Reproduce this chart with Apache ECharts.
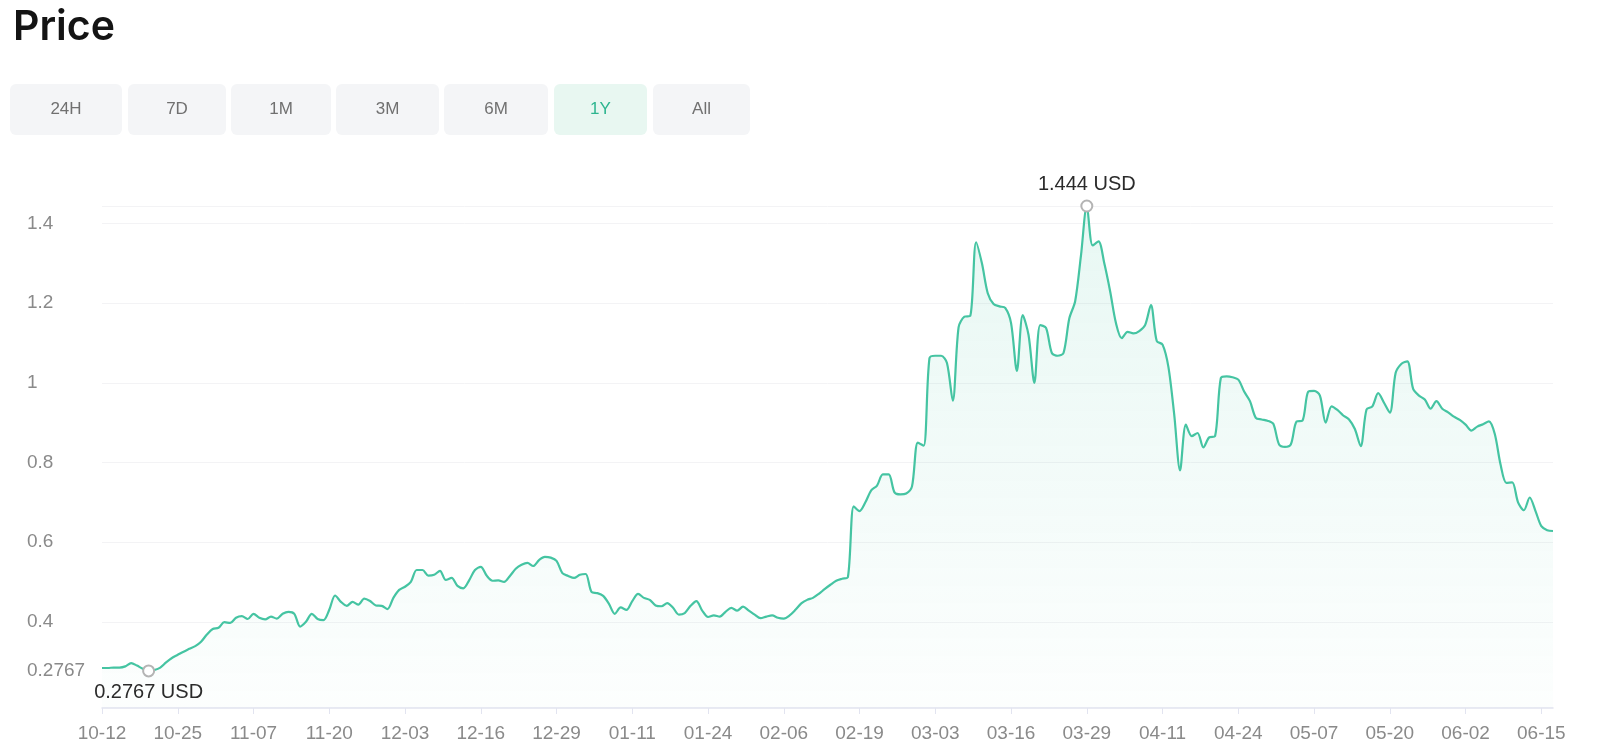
<!DOCTYPE html>
<html>
<head>
<meta charset="utf-8">
<title>Price</title>
<script src="https://cdn.jsdelivr.net/npm/echarts@6/dist/echarts.min.js"></script>
<style>
  html, body { margin: 0; padding: 0; background: #fff; }
  #chart { width: 1600px; height: 745px; }
</style>
</head>
<body>
<div id="chart"></div>
<script>
// Daily price (USD) starting 2023-10-12
const startDate = '2023-10-12';
const prices = [
  0.284, 0.284, 0.285, 0.285, 0.288, 0.296, 0.290, 0.282, 0.2767, 0.279,
  0.285, 0.298, 0.309, 0.317, 0.325, 0.332, 0.339, 0.350, 0.368, 0.382,
  0.385, 0.399, 0.397, 0.410, 0.414, 0.407, 0.420, 0.410, 0.406, 0.413,
  0.408, 0.420, 0.425, 0.420, 0.388, 0.400, 0.420, 0.407, 0.404, 0.430,
  0.466, 0.450, 0.440, 0.450, 0.443, 0.458, 0.452, 0.441, 0.440, 0.432,
  0.460, 0.480, 0.488, 0.500, 0.530, 0.530, 0.516, 0.518, 0.528, 0.505,
  0.510, 0.490, 0.484, 0.504, 0.530, 0.538, 0.516, 0.503, 0.504, 0.500,
  0.515, 0.533, 0.543, 0.548, 0.540, 0.555, 0.563, 0.561, 0.553, 0.522,
  0.515, 0.510, 0.518, 0.520, 0.475, 0.472, 0.465, 0.445, 0.420, 0.436,
  0.430, 0.452, 0.470, 0.460, 0.455, 0.441, 0.439, 0.447, 0.435, 0.418,
  0.422, 0.440, 0.452, 0.428, 0.412, 0.416, 0.413, 0.425, 0.435, 0.428,
  0.438, 0.428, 0.418, 0.409, 0.413, 0.416, 0.410, 0.408, 0.416, 0.430,
  0.446, 0.455, 0.460, 0.470, 0.482, 0.493, 0.503, 0.508, 0.512, 0.690,
  0.678, 0.700, 0.730, 0.742, 0.770, 0.770, 0.725, 0.720, 0.722, 0.740,
  0.850, 0.842, 1.062, 1.068, 1.068, 1.050, 0.955, 1.140, 1.166, 1.168,
  1.353, 1.300, 1.225, 1.198, 1.192, 1.188, 1.150, 1.030, 1.170, 1.120,
  1.000, 1.145, 1.138, 1.075, 1.068, 1.075, 1.162, 1.205, 1.320, 1.444,
  1.345, 1.355, 1.300, 1.230, 1.150, 1.112, 1.128, 1.124, 1.130, 1.145,
  1.195, 1.105, 1.096, 1.040, 0.920, 0.780, 0.895, 0.866, 0.874, 0.838,
  0.863, 0.866, 1.012, 1.016, 1.014, 1.008, 0.978, 0.954, 0.912, 0.908,
  0.905, 0.897, 0.845, 0.839, 0.845, 0.903, 0.905, 0.978, 0.980, 0.968,
  0.900, 0.941, 0.932, 0.918, 0.908, 0.884, 0.841, 0.933, 0.941, 0.974,
  0.950, 0.925, 1.025, 1.048, 1.054, 0.985, 0.968, 0.958, 0.935, 0.954,
  0.935, 0.926, 0.915, 0.907, 0.895, 0.880, 0.890, 0.896, 0.903, 0.872,
  0.795, 0.749, 0.750, 0.700, 0.680, 0.712, 0.678, 0.640, 0.630, 0.628
];
const yLabelValues = [0.2767, 0.4, 0.6, 0.8, 1, 1.2, 1.4];
const yGridValues = [0.4, 0.6, 0.8, 1, 1.2, 1.4, 1.444];
const rangeButtons = ['24H', '7D', '1M', '3M', '6M', '1Y', 'All'];
const activeRange = '1Y';

// button layout (x, width) in px
const buttonBoxes = [[10, 112], [128, 98], [231, 100], [336, 103], [444, 104], [554, 93], [653, 97]];

// daily categories
const dates = [];
const d0 = new Date(startDate + 'T00:00:00Z');
for (let i = 0; i < prices.length; i++) {
  const d = new Date(d0.getTime() + i * 86400000);
  const mm = String(d.getUTCMonth() + 1).padStart(2, '0');
  const dd = String(d.getUTCDate()).padStart(2, '0');
  dates.push(mm + '-' + dd);
}

const FONT = '"Liberation Sans", Arial, sans-serif';
const GREEN = '#45c4a2';

const buttonGraphics = rangeButtons.map((name, i) => {
  const active = name === activeRange;
  const [x, w] = buttonBoxes[i];
  return {
    type: 'group',
    left: x,
    top: 84,
    children: [
      {
        type: 'rect',
        shape: { x: 0, y: 0, width: w, height: 51, r: 6 },
        style: { fill: active ? '#e8f7f1' : '#f4f5f7' }
      },
      {
        type: 'text',
        x: w / 2,
        y: 25.5,
        style: {
          text: name,
          fill: active ? '#2db58f' : '#707070',
          font: '17px ' + FONT,
          align: 'center',
          verticalAlign: 'middle'
        }
      }
    ]
  };
});

const chart = echarts.init(document.getElementById('chart'));
chart.setOption({
  animation: false,
  title: {
    text: 'Price',
    left: 8,
    top: 2,
    textStyle: { fontSize: 41, fontWeight: 600, color: '#141414', fontFamily: 'Inter, ' + FONT }
  },
  graphic: buttonGraphics,
  grid: { left: 102, right: 47, top: 206, bottom: 37 },
  xAxis: {
    type: 'category',
    data: dates,
    boundaryGap: false,
    axisLine: { lineStyle: { color: '#e2e4f0', width: 1.5 } },
    axisTick: { interval: 12, length: 6, lineStyle: { color: '#e2e4f0' } },
    axisLabel: { interval: 12, color: '#8a8a8a', fontSize: 19, fontFamily: FONT, margin: 16 },
    splitLine: { show: false }
  },
  yAxis: {
    type: 'value',
    min: 0.1835,
    max: 1.444,
    axisLine: { show: false },
    axisTick: { show: false, customValues: yGridValues },
    axisLabel: {
      customValues: yLabelValues,
      align: 'left',
      margin: 75,
      color: '#8a8a8a',
      fontSize: 19,
      fontFamily: FONT,
      formatter: v => String(v)
    },
    splitLine: { show: true, lineStyle: { color: '#f3f3f5' } }
  },
  series: [{
    type: 'line',
    data: prices,
    smooth: 0.3,
    showSymbol: false,
    lineStyle: { color: GREEN, width: 2.2 },
    itemStyle: { color: GREEN },
    areaStyle: {
      color: new echarts.graphic.LinearGradient(0, 0, 0, 1, [
        { offset: 0, color: 'rgba(69,196,162,0.18)' },
        { offset: 1, color: 'rgba(69,196,162,0.02)' }
      ])
    },
    markPoint: {
      symbol: 'circle',
      symbolSize: 11,
      itemStyle: { color: '#fff', borderColor: '#b4b4b4', borderWidth: 2 },
      label: {
        formatter: '{c} USD',
        color: '#2b2b2b',
        fontSize: 20,
        fontFamily: FONT
      },
      data: [
        { type: 'max', label: { position: 'top', distance: 5 } },
        { type: 'min', label: { position: 'bottom', distance: 5 } }
      ]
    }
  }]
});
</script>
</body>
</html>
